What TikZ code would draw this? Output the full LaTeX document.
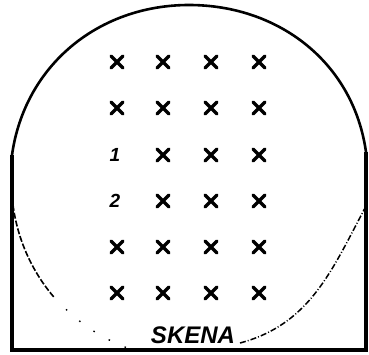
\documentclass[tikz,border=0pt]{standalone}
\usepackage{fontspec}
\setmainfont{Liberation Sans}
\usepackage{tikz}
\usetikzlibrary{shapes.misc,calc}

\tikzset{
  seat/.style={cross out,draw,line width=3.4pt,line cap=round,minimum size=8.5pt,inner sep=0pt},
  seatno/.style={font=\fontsize{19}{19}\selectfont\bfseries\itshape,inner sep=0pt},
  wall/.style={line width=3.4pt},
  rim/.style={line width=2.6pt},
  lowrim/.style={line width=1.6pt,dash pattern=on 6pt off 2pt}
}

\begin{document}
\begin{tikzpicture}[x=1pt,y=1pt]
  \useasboundingbox (0,0) rectangle (369,-354);
  \coordinate (c) at (189,-182);
  % outer wall
  \coordinate (lt) at (12,-155);
  \coordinate (rt) at (366,-152);
  \coordinate (lb) at (12,-350);
  \coordinate (rb) at (366,-350);
  \draw[wall] (lt) -- (lb) -- (rb) -- (rt);
  \draw[rim] (lt) to[out=82,in=180] (189,-5) to[out=0,in=98] (rt);
  % lower part of the circle
  \draw[lowrim] ($(c)+(187.4:177.5)$) arc[start angle=187.4,end angle=220.8,radius=177.5];
  \draw[line width=1.4pt,dash pattern=on 1.5pt off 16pt] ($(c)+(226:177)$) arc[start angle=226,end angle=252,radius=177];
  \draw[line width=1.5pt,dash pattern=on 6pt off 2pt on 1pt off 2pt] (240,-343) to[out=15,in=-118] (365,-208);
  % seats
  \foreach \r/\y in {1/-62,2/-108,3/-155,4/-201,5/-247,6/-293}{
    \foreach \c/\x in {2/163,3/211,4/259}
      \node[seat] (s-\r-\c) at (\x,\y) {};
  }
  \foreach \r/\y in {1/-62,2/-108,5/-247,6/-293}
    \node[seat] (s-\r-1) at (117,\y) {};
  \node[seatno] (s-3-1) at (115,-155) {1};
  \node[seatno] (s-4-1) at (115,-201) {2};
  \node[font=\fontsize{24}{24}\selectfont\bfseries\itshape,inner sep=0pt] (skena) at (193,-335) {SKENA};
\end{tikzpicture}
\end{document}
